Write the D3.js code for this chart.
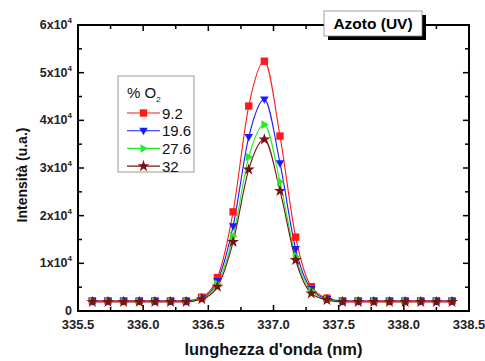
<!DOCTYPE html>
<html>
<head>
<meta charset="utf-8">
<script src="https://cdn.jsdelivr.net/npm/d3@7"></script>
<style>
  body { margin: 0; background: #fff; }
  svg { font-family: "Liberation Sans", Arial, sans-serif; }
</style>
</head>
<body>
<svg id="chart" width="485" height="361"></svg>
<script>
// wavelength (nm) of each sampled point
const wavelengths = [335.61, 335.73, 335.85, 335.97, 336.09, 336.21, 336.33, 336.45, 336.57, 336.69, 336.81, 336.93,
                     337.05, 337.17, 337.29, 337.41, 337.53, 337.65, 337.77, 337.89, 338.01, 338.13, 338.25, 338.37];

const o2Labels = ['9.2', '19.6', '27.6', '32'];

const intensity92 = [2150, 2150, 2150, 2150, 2150, 2150, 2150, 2900, 7000, 20800, 43000, 52400,
                     36700, 15500, 5100, 2700, 2150, 2150, 2150, 2150, 2150, 2150, 2150, 2150];
const intensity196 = [2050, 2050, 2050, 2050, 2050, 2050, 2050, 2700, 6300, 17800, 36500, 44400,
                      31000, 13000, 4600, 2500, 2050, 2050, 2050, 2050, 2050, 2050, 2050, 2050];
const intensity276 = [1980, 1980, 1980, 1980, 1980, 1980, 1980, 2600, 5700, 15700, 32300, 39100,
                      27100, 11400, 4300, 2400, 1980, 1980, 1980, 1980, 1980, 1980, 1980, 1980];
const intensity32 = [1900, 1900, 1900, 1900, 1900, 1900, 1900, 2500, 5100, 14500, 29700, 36000,
                     25200, 10700, 3700, 2300, 1900, 1900, 1900, 1900, 1900, 1900, 1900, 1900];

const xTicks = [335.5, 336.0, 336.5, 337.0, 337.5, 338.0, 338.5];
const yTicks = [0, 1, 2, 3, 4, 5, 6]; // x10^4

const seriesList = [
  { label: o2Labels[0], values: intensity92, color: '#ff1a1a', symbol: 'square' },
  { label: o2Labels[1], values: intensity196, color: '#1a1aff', symbol: 'down' },
  { label: o2Labels[2], values: intensity276, color: '#22ee22', symbol: 'right' },
  { label: o2Labels[3], values: intensity32, color: '#7a1010', symbol: 'star' }
];

const svg = d3.select('#chart');
const plot = { left: 78, right: 469, top: 25, bottom: 311 };

const x = d3.scaleLinear().domain([335.5, 338.5]).range([plot.left, plot.right]);
const y = d3.scaleLinear().domain([0, 60000]).range([plot.bottom, plot.top]);

function symbolPath(kind, size) {
  const s = size;
  if (kind === 'square') return `M${-s},${-s}H${s}V${s}H${-s}Z`;
  if (kind === 'down') return `M${-s * 1.15},${-s * 0.8}H${s * 1.15}L0,${s * 1.2}Z`;
  if (kind === 'right') return `M${-s * 0.8},${-s * 1.15}L${s * 1.2},0L${-s * 0.8},${s * 1.15}Z`;
  return d3.symbol(d3.symbolStar, s * s * 3.2)();
}

// Clip for data
svg.append('clipPath').attr('id', 'clip')
  .append('rect')
  .attr('x', plot.left).attr('y', plot.top)
  .attr('width', plot.right - plot.left).attr('height', plot.bottom - plot.top);

const dataLayer = svg.append('g').attr('clip-path', 'url(#clip)');

const line = d3.line()
  .x(d => x(d[0]))
  .y(d => y(d[1]))
  .curve(d3.curveMonotoneX);

seriesList.forEach(s => {
  const pts = wavelengths.map((w, i) => [w, s.values[i]]);
  dataLayer.append('path')
    .attr('d', line(pts))
    .attr('fill', 'none')
    .attr('stroke', s.color)
    .attr('stroke-width', 1.1);
});

seriesList.forEach(s => {
  const pts = wavelengths.map((w, i) => [w, s.values[i]]);
  dataLayer.selectAll(null)
    .data(pts)
    .enter().append('path')
    .attr('transform', d => `translate(${x(d[0])},${y(d[1])})`)
    .attr('d', symbolPath(s.symbol, 3.7))
    .attr('fill', s.color);
});

// Axes with inward ticks on all four sides
const xMinor = d3.range(335.5, 338.51, 0.25);
const yMinor = d3.range(0, 60001, 5000);

function tickLen(isMajor) { return isMajor ? 6 : 4; }

const axisG = svg.append('g').attr('stroke', '#000');

xMinor.forEach(v => {
  const major = Math.abs(v * 2 - Math.round(v * 2)) < 1e-6;
  const len = tickLen(major);
  axisG.append('line').attr('x1', x(v)).attr('x2', x(v))
    .attr('y1', plot.bottom).attr('y2', plot.bottom - len).attr('stroke-width', 1.5);
  axisG.append('line').attr('x1', x(v)).attr('x2', x(v))
    .attr('y1', plot.top).attr('y2', plot.top + len).attr('stroke-width', 1.5);
});

yMinor.forEach(v => {
  const major = v % 10000 === 0;
  const len = tickLen(major);
  axisG.append('line').attr('y1', y(v)).attr('y2', y(v))
    .attr('x1', plot.left).attr('x2', plot.left + len).attr('stroke-width', 1.5);
  axisG.append('line').attr('y1', y(v)).attr('y2', y(v))
    .attr('x1', plot.right).attr('x2', plot.right - len).attr('stroke-width', 1.5);
});

axisG.append('rect')
  .attr('x', plot.left).attr('y', plot.top)
  .attr('width', plot.right - plot.left).attr('height', plot.bottom - plot.top)
  .attr('fill', 'none').attr('stroke-width', 2);

// Tick labels
svg.append('g').selectAll('text')
  .data(xTicks)
  .enter().append('text')
  .attr('x', d => x(d))
  .attr('y', plot.bottom + 18)
  .attr('text-anchor', 'middle')
  .attr('font-size', 13)
  .attr('font-weight', 'bold')
  .attr('fill', '#222')
  .text(d => d.toFixed(1));

const yLab = svg.append('g').selectAll('text')
  .data(yTicks)
  .enter().append('text')
  .attr('x', plot.left - 6)
  .attr('y', d => y(d * 10000) + 4)
  .attr('text-anchor', 'end')
  .attr('font-size', 12.5)
  .attr('font-weight', 'bold')
  .attr('fill', '#222');

yLab.each(function (d) {
  const t = d3.select(this);
  if (d === 0) { t.text('0'); return; }
  t.append('tspan').text(`${d}x10`);
  t.append('tspan').attr('font-size', 8).attr('dy', -6).text('4');
});

// Axis titles
svg.append('text')
  .attr('x', x(337.0))
  .attr('y', 355)
  .attr('text-anchor', 'middle')
  .attr('font-size', 16.5)
  .attr('font-weight', 'bold')
  .attr('fill', '#111')
  .text("lunghezza d'onda (nm)");

svg.append('text')
  .attr('transform', `translate(27, ${(plot.top + plot.bottom) / 2 + 7}) rotate(-90)`)
  .attr('text-anchor', 'middle')
  .attr('font-size', 14)
  .attr('font-weight', 'bold')
  .attr('fill', '#111')
  .text('Intensità (u.a.)');

// Title box with shadow
const title = svg.append('g').attr('transform', 'translate(324, 11)');
title.append('rect').attr('x', 4).attr('y', 4).attr('width', 98).attr('height', 25).attr('fill', '#000');
title.append('rect').attr('width', 98).attr('height', 25)
  .attr('fill', '#fff').attr('stroke', '#888').attr('stroke-width', 0.8);
title.append('text')
  .attr('x', 49).attr('y', 18)
  .attr('text-anchor', 'middle')
  .attr('font-size', 15.5)
  .attr('font-weight', 'bold')
  .text('Azoto (UV)');

// Legend
const legend = svg.append('g').attr('transform', 'translate(118, 76)');
legend.append('rect').attr('width', 76).attr('height', 96)
  .attr('fill', '#fff').attr('stroke', '#999').attr('stroke-width', 1);
const lt = legend.append('text').attr('x', 9).attr('y', 22).attr('font-size', 15).attr('fill', '#111');
lt.append('tspan').text('% O');
lt.append('tspan').attr('font-size', 8).attr('dy', 4).text('2');

const rows = legend.selectAll('.row')
  .data(seriesList)
  .enter().append('g')
  .attr('class', 'row')
  .attr('transform', (d, i) => `translate(0, ${37 + i * 17.7})`);
rows.append('line').attr('x1', 9).attr('x2', 42)
  .attr('stroke', d => d.color).attr('stroke-width', 1.1);
rows.append('path').attr('transform', 'translate(25.5,0)')
  .attr('d', d => symbolPath(d.symbol, 3.7))
  .attr('fill', d => d.color);
rows.append('text').attr('x', 44).attr('y', 5.5)
  .attr('font-size', 15).attr('fill', '#111')
  .text(d => d.label);
</script>
</body>
</html>
